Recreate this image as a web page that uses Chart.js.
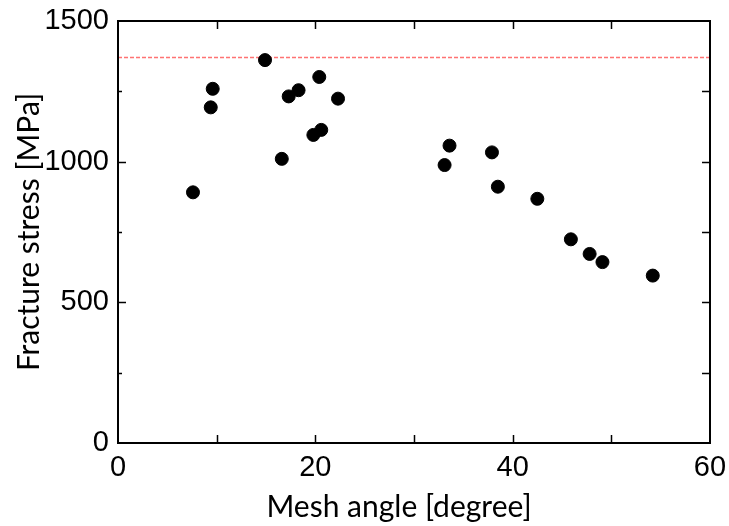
<!DOCTYPE html>
<html>
<head>
<meta charset="utf-8">
<script src="https://cdn.jsdelivr.net/npm/chart.js@4"></script>
<style>
  html, body { margin: 0; padding: 0; background: #fff; }
  #wrap { width: 729px; height: 526px; }
</style>
</head>
<body>
<div id="wrap"><canvas id="myChart"></canvas></div>
<script>
// mesh angle [degree] and fracture stress [MPa]
const meshAngle = [7.6, 9.4, 9.6, 14.9, 16.6, 17.3, 18.3, 20.4, 19.8, 20.6, 22.3,
  33.6, 33.1, 37.9, 38.5, 42.5, 45.9, 47.8, 49.1, 54.2];
const fractureStress = [891, 1193, 1259, 1361, 1010, 1232, 1254, 1301, 1095, 1113, 1224,
  1057, 988, 1033, 911, 868, 724, 672, 643, 595];

const refStress = 1370;
const xRange = [0, 60];
const yRange = [0, 1500];
const xLabels = [0, 20, 40, 60];
const yLabels = [0, 500, 1000, 1500];
const xTitle = 'Mesh angle [degree]';

const points = meshAngle.map((a, i) => ({ x: a, y: fractureStress[i] }));
const refLine = xRange.map(x => ({ x: x, y: refStress }));

const tickFont = { family: 'Liberation Sans, Arial, sans-serif', size: 29 };
const titleFont = { family: 'Lato, sans-serif', size: 30 };

// inward tick marks on all four sides, plus the x title (sits a bit left of centre)
const innerTicks = {
  id: 'innerTicks',
  afterDraw(chart) {
    const ctx = chart.ctx;
    const area = chart.chartArea;
    const xs = chart.scales.x, ys = chart.scales.y;
    ctx.save();
    ctx.strokeStyle = '#000';
    ctx.lineWidth = 1.5;
    ctx.beginPath();
    xs.ticks.forEach(t => {
      const px = Math.round(xs.getPixelForValue(t.value)) + 0.5;
      if (px <= area.left + 1 || px >= area.right - 1) return;
      ctx.moveTo(px, area.bottom); ctx.lineTo(px, area.bottom - 8);
      ctx.moveTo(px, area.top); ctx.lineTo(px, area.top + 8);
    });
    ys.ticks.forEach(t => {
      const py = Math.round(ys.getPixelForValue(t.value)) + 0.5;
      if (py <= area.top + 1 || py >= area.bottom - 1) return;
      const len = t.value % 500 === 0 ? 8 : 4;
      ctx.moveTo(area.left, py); ctx.lineTo(area.left + len, py);
      ctx.moveTo(area.right, py); ctx.lineTo(area.right - 8, py);
    });
    ctx.stroke();
    ctx.lineWidth = 2;
    ctx.strokeRect(area.left, area.top, area.right - area.left, area.bottom - area.top);

    ctx.fillStyle = '#000';
    ctx.font = titleFont.size + 'px ' + titleFont.family;
    ctx.textAlign = 'center';
    ctx.textBaseline = 'middle';
    ctx.fillText(xTitle, (area.left + area.right) / 2 - 15, area.bottom + 64);
    ctx.restore();
  }
};

const config = {
  type: 'scatter',
  data: {
    datasets: [{
      data: refLine,
      showLine: true,
      borderColor: 'rgba(255, 90, 90, 0.85)',
      borderWidth: 1.5,
      borderDash: [4, 2],
      pointRadius: 0,
      order: 2
    }, {
      data: points,
      backgroundColor: '#000',
      borderColor: '#000',
      pointRadius: 6.5,
      order: 1
    }]
  },
  options: {
    responsive: true,
    maintainAspectRatio: false,
    animation: false,
    layout: { padding: { top: 21, right: 19, left: 0, bottom: 0 } },
    plugins: { legend: { display: false }, tooltip: { enabled: false } },
    scales: {
      x: {
        type: 'linear',
        min: xRange[0], max: xRange[1],
        grid: { display: false, drawTicks: false },
        border: { display: false },
        ticks: {
          stepSize: 10,
          padding: 8,
          color: '#000',
          font: tickFont,
          maxRotation: 0,
          autoSkip: false,
          callback: v => xLabels.includes(v) ? String(v) : ''
        },
        afterFit: s => { s.height = 83; s.paddingLeft = 0; s.paddingRight = 0; }
      },
      y: {
        type: 'linear',
        min: yRange[0], max: yRange[1],
        grid: { display: false, drawTicks: false },
        border: { display: false },
        ticks: {
          stepSize: 250,
          padding: 9,
          color: '#000',
          font: tickFont,
          autoSkip: false,
          callback: v => yLabels.includes(v) ? String(v) : ''
        },
        title: {
          display: true,
          text: 'Fracture stress [MPa]',
          color: '#000',
          font: titleFont,
          padding: { top: 11, bottom: 0 }
        },
        afterFit: s => { s.width = 118; s.paddingTop = 0; s.paddingBottom = 0; }
      }
    }
  },
  plugins: [innerTicks]
};

new Chart(document.getElementById('myChart'), config);
</script>
</body>
</html>
